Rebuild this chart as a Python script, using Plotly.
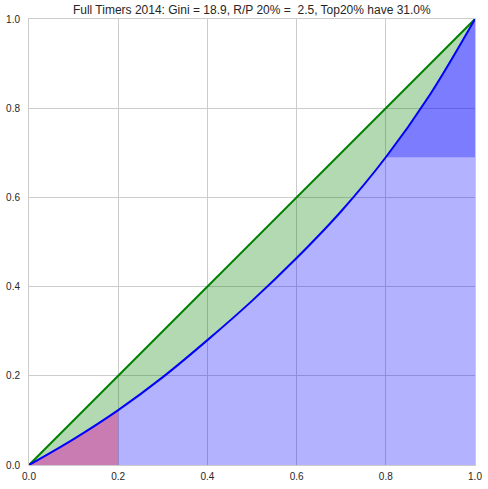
import plotly.graph_objects as go

# Lorenz curve data
pop_share = [0.0, 0.1, 0.2, 0.3, 0.4, 0.5, 0.6, 0.7, 0.8, 0.9, 1.0]
income_share = [0.0, 0.058, 0.123, 0.197, 0.28, 0.368, 0.464, 0.569, 0.69, 0.832, 1.0]
bottom_cut = 0.2
top_cut = 0.8
top_floor = 0.69
tick_vals = [0.0, 0.2, 0.4, 0.6, 0.8, 1.0]
title_text = "Full Timers 2014: Gini = 18.9, R/P 20% =\u00a0\u00a02.5, Top20% have 31.0%"

bx = [x for x in pop_share if x <= bottom_cut + 1e-9]
by = income_share[:len(bx)]
tx = [x for x in pop_share if x >= top_cut - 1e-9]
ty = income_share[len(pop_share) - len(tx):]

spl = dict(width=0, shape="spline", smoothing=1.0)

fig = go.Figure()
# area under curve (light blue)
fig.add_trace(go.Scatter(x=pop_share, y=income_share, mode="lines", line=spl,
                         fill="tozeroy", fillcolor="rgba(0,0,255,0.3)", hoverinfo="skip", showlegend=False))
# bottom 20% (red overlay)
fig.add_trace(go.Scatter(x=bx, y=by, mode="lines", line=spl,
                         fill="tozeroy", fillcolor="rgba(255,0,0,0.3)", hoverinfo="skip", showlegend=False))
# top 20% (extra blue)
fig.add_trace(go.Scatter(x=[top_cut, 1.0], y=[top_floor, top_floor], mode="lines", line=dict(width=0),
                         hoverinfo="skip", showlegend=False))
fig.add_trace(go.Scatter(x=tx, y=ty, mode="lines", line=spl,
                         fill="tonexty", fillcolor="rgba(0,0,255,0.3)", hoverinfo="skip", showlegend=False))
# equality line and green gap
fig.add_trace(go.Scatter(x=pop_share, y=pop_share, mode="lines", line=dict(width=0),
                         hoverinfo="skip", showlegend=False))
fig.add_trace(go.Scatter(x=pop_share, y=income_share, mode="lines", line=spl,
                         fill="tonexty", fillcolor="rgba(0,128,0,0.3)", hoverinfo="skip", showlegend=False))
# lines
fig.add_trace(go.Scatter(x=[0, 1], y=[0, 1], mode="lines", line=dict(color="green", width=2), showlegend=False))
fig.add_trace(go.Scatter(x=pop_share, y=income_share, mode="lines",
                         line=dict(color="blue", width=2, shape="spline", smoothing=1.0), showlegend=False))

axis_common = dict(range=[0, 1], tickvals=tick_vals, tickformat=".1f", showgrid=True, gridcolor="#cccccc",
                   gridwidth=1, zeroline=False, showline=True, linecolor="#cccccc", linewidth=1, mirror=True,
                   ticks="", automargin=False,
                   tickfont=dict(family="Liberation Sans, Arial", size=10, color="#262626"))
fig.update_xaxes(**axis_common, ticklabelstandoff=2)
fig.update_yaxes(**axis_common, ticklabelstandoff=6)
fig.update_layout(
    width=488, height=489,
    margin=dict(l=29, r=13, t=19, b=24, autoexpand=False),
    paper_bgcolor="white", plot_bgcolor="white",
    title=dict(text=title_text, x=0.516, xanchor="center", y=0.979, yanchor="middle", automargin=False,
               font=dict(family="Liberation Sans, Arial", size=12, color="#262626")),
)
fig.write_html("out.html", config={"displayModeBar": False},
               post_script="document.body.style.margin='0px';document.body.style.overflow='hidden';")
